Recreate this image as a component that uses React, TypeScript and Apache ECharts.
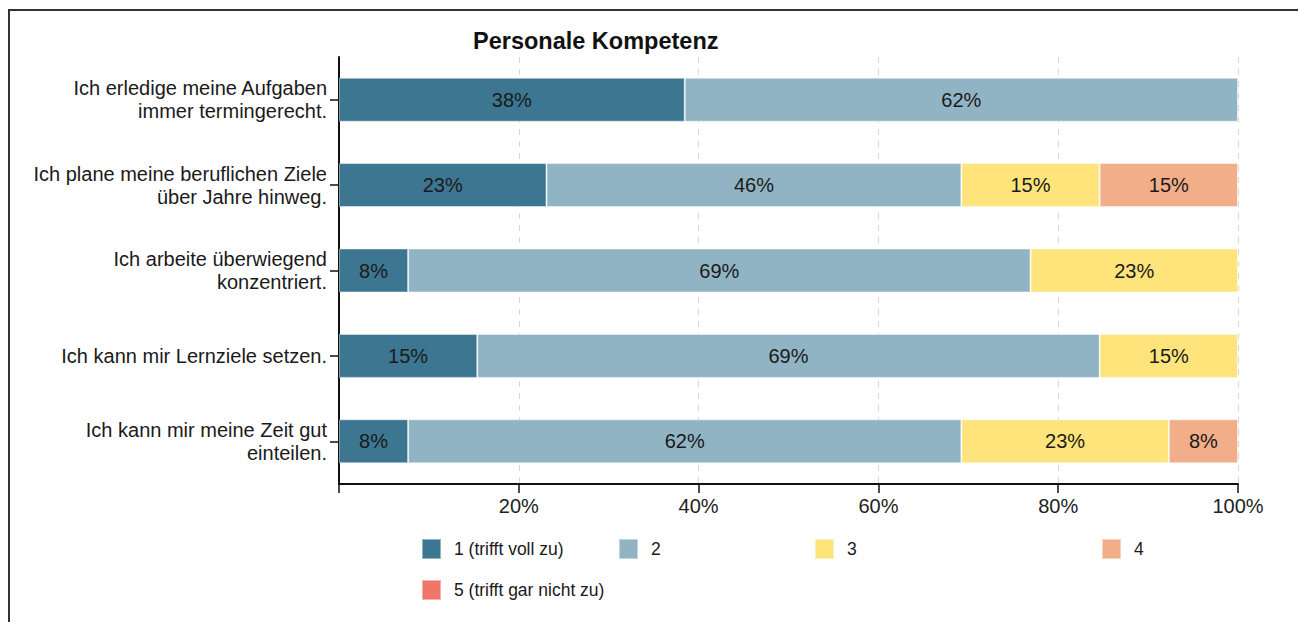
import React, { useEffect, useRef } from "react";
import * as echarts from "echarts";

const title = "Personale Kompetenz";
const categories = [
  "Ich erledige meine Aufgaben\nimmer termingerecht.",
  "Ich plane meine beruflichen Ziele\nüber Jahre hinweg.",
  "Ich arbeite überwiegend\nkonzentriert.",
  "Ich kann mir Lernziele setzen.",
  "Ich kann mir meine Zeit gut\neinteilen.",
];
const seriesNames = ["1 (trifft voll zu)", "2", "3", "4", "5 (trifft gar nicht zu)"];
const s1 = [38.46, 23.08, 7.69, 15.38, 7.69];
const s2 = [61.54, 46.15, 69.23, 69.23, 61.54];
const s3 = [null, 15.38, 23.08, 15.38, 23.08];
const s4 = [null, 15.38, null, null, 7.69];
const s5 = [null, null, null, null, null];
const seriesValues = [s1, s2, s3, s4, s5];
const colors = ["#3d7690", "#90b4c4", "#fee47a", "#f1ae89", "#ef756a"];
const xTicks = [0, 20, 40, 60, 80, 100];

const FONT = "'Liberation Sans', Arial, sans-serif";

export default function App() {
  const ref = useRef<HTMLDivElement>(null);
  useEffect(() => {
    if (!ref.current) return;
    const chart = echarts.init(ref.current, undefined, { renderer: "svg" });
    const legendPos = [
      { left: 421, top: 538 },
      { left: 618, top: 538 },
      { left: 814, top: 538 },
      { left: 1101, top: 538 },
      { left: 421, top: 579 },
    ];
    chart.setOption({
      animation: false,
      textStyle: { fontFamily: FONT },
      title: {
        text: title,
        left: 473,
        top: 29,
        padding: 0,
        textStyle: { fontSize: 23.5, fontWeight: "bold", color: "#111", fontFamily: FONT },
      },
      legend: seriesNames.map((n, i) => ({
        data: [n],
        left: legendPos[i].left,
        top: legendPos[i].top,
        padding: 0,
        itemWidth: 19,
        itemHeight: 20,
        icon: "rect",
        selectedMode: false,
        textStyle: { fontSize: 17.5, color: "#1a1a1a", fontFamily: FONT, padding: [0, 0, 0, 8] },
      })),
      grid: {
        left: 339,
        right: 60,
        top: 57,
        bottom: 138,
        containLabel: false,
        outerBoundsMode: "none",
      },
      xAxis: {
        type: "value",
        min: xTicks[0],
        max: xTicks[xTicks.length - 1],
        interval: 20,
        axisLine: { show: true, lineStyle: { color: "#111", width: 2 } },
        axisTick: { show: true, length: 9, lineStyle: { color: "#111", width: 1.5 } },
        axisLabel: {
          fontSize: 20,
          color: "#222",
          margin: 12,
          fontFamily: FONT,
          formatter: (v: number) => (v === 0 ? "" : v + "%"),
        },
        splitLine: { show: true, lineStyle: { color: "#d9d9d9", type: [6, 6], width: 1 } },
      },
      yAxis: {
        type: "category",
        data: categories,
        inverse: true,
        axisLine: { show: true, lineStyle: { color: "#111", width: 2 } },
        axisTick: { show: true, length: 9, alignWithLabel: true, lineStyle: { color: "#111", width: 1.5 } },
        axisLabel: {
          fontSize: 20,
          lineHeight: 23,
          color: "#1a1a1a",
          margin: 12,
          align: "right",
          fontFamily: FONT,
        },
        splitLine: { show: false },
      },
      series: seriesNames.map((n, i) => ({
        name: n,
        type: "bar",
        stack: "total",
        barWidth: 44,
        data: seriesValues[i],
        itemStyle: { color: colors[i], borderColor: "rgba(255,255,255,0.45)", borderWidth: 1 },
        label: {
          show: true,
          position: "inside",
          fontSize: 20,
          color: "#1a1a1a",
          fontFamily: FONT,
          formatter: (p: any) => (p.value == null || p.value < 1 ? "" : Math.round(p.value) + "%"),
        },
      })),
    });
    return () => chart.dispose();
  }, []);
  return (
    <div style={{ position: "fixed", left: 0, top: 0, width: 1298, height: 622, overflow: "hidden", background: "#fff" }}>
      <div
        style={{
          position: "absolute",
          left: 8,
          top: 9,
          width: 1300,
          height: 700,
          borderLeft: "2px solid #333",
          borderTop: "2px solid #333",
        }}
      />
      <div ref={ref} style={{ position: "absolute", left: 0, top: 0, width: 1298, height: 622 }} />
    </div>
  );
}
